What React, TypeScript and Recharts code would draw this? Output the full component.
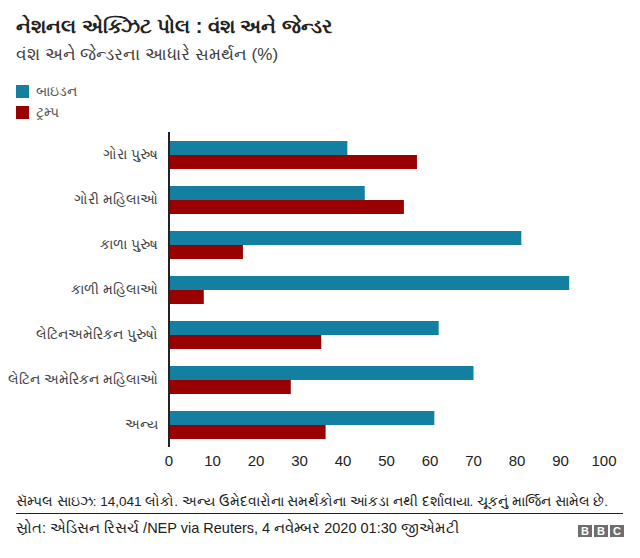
import React from 'react'
import { BarChart, Bar, XAxis, YAxis, Legend } from 'recharts'

const groups = [
  'ગોરા પુરુષ',
  'ગોરી મહિલાઓ',
  'કાળા પુરુષ',
  'કાળી મહિલાઓ',
  'લેટિનઅમેરિકન પુરુષો',
  'લેટિન અમેરિકન મહિલાઓ',
  'અન્ય',
]
const bidenShare = [41, 45, 81, 92, 62, 70, 61]
const trumpShare = [57, 54, 17, 8, 35, 28, 36]
const xTicks = [0, 10, 20, 30, 40, 50, 60, 70, 80, 90, 100]

const BLUE = '#1380A1'
const RED = '#990000'
const FONT = '"Liberation Sans", Arial, "Noto Sans", sans-serif'

const data = groups.map((name, i) => ({
  name,
  biden: bidenShare[i],
  trump: trumpShare[i],
}))

const legendItems = [
  { label: 'બાઇડન', color: BLUE },
  { label: 'ટ્રમ્પ', color: RED },
]

function LegendBox() {
  return (
    <div style={{ fontFamily: FONT }}>
      {legendItems.map((item) => (
        <div key={item.label} style={{ display: 'flex', alignItems: 'center', height: 21 }}>
          <span style={{ width: 13, height: 13, background: item.color, marginRight: 7 }} />
          <span style={{ fontSize: 14, color: '#555' }}>{item.label}</span>
        </div>
      ))}
    </div>
  )
}

// single-line category label, no wrapping
function GroupTick(props: any) {
  const { x, y, payload } = props
  return (
    <text
      x={x}
      y={y}
      dy="0.355em"
      textAnchor="end"
      fill="#444"
      fontSize={14}
      fontFamily={FONT}
    >
      {payload.value}
    </text>
  )
}

function BbcLogo() {
  return (
    <div style={{ position: 'absolute', left: 578, top: 525, display: 'flex', gap: 2 }}>
      {['B', 'B', 'C'].map((ch, i) => (
        <div
          key={i}
          style={{
            width: 14,
            height: 12,
            background: '#6e6e6e',
            color: '#fff',
            fontFamily: FONT,
            fontWeight: 700,
            fontSize: 11,
            lineHeight: '12px',
            textAlign: 'center',
          }}
        >
          {ch}
        </div>
      ))}
    </div>
  )
}

export default function App() {
  return (
    <div
      style={{
        position: 'absolute',
        left: 0,
        top: 0,
        width: 640,
        height: 558,
        background: '#fff',
        fontFamily: FONT,
        overflow: 'hidden',
      }}
    >
      <BarChart
        width={640}
        height={480}
        data={data}
        layout="vertical"
        margin={{ top: 132, right: 36, bottom: 3, left: 0 }}
        barSize={14}
        barGap={0}
      >
        <XAxis
          type="number"
          domain={[0, 100]}
          ticks={xTicks}
          axisLine={false}
          tickLine={false}
          height={30}
          tick={{ fill: '#222', fontSize: 15, fontFamily: FONT }}
        />
        <YAxis
          type="category"
          dataKey="name"
          width={169}
          tickLine={false}
          tickMargin={5}
          axisLine={{ stroke: '#222', strokeWidth: 2 }}
          tick={<GroupTick />}
        />
        <Legend
          layout="horizontal"
          verticalAlign="middle"
          align="center"
          content={() => <LegendBox />}
          wrapperStyle={{ left: 16, top: 81, width: 120, height: 42 }}
        />
        <Bar dataKey="biden" name="બાઇડન" fill={BLUE} isAnimationActive={false} />
        <Bar dataKey="trump" name="ટ્રમ્પ" fill={RED} isAnimationActive={false} />
      </BarChart>

      <div
        style={{
          position: 'absolute',
          left: 16,
          top: 15,
          fontSize: 20,
          fontWeight: 700,
          color: '#222',
          whiteSpace: 'nowrap',
        }}
      >
        નેશનલ એક્ઝિટ પોલ : વંશ અને જેન્ડર
      </div>
      <div
        style={{
          position: 'absolute',
          left: 16,
          top: 45,
          fontSize: 17,
          color: '#404040',
          whiteSpace: 'nowrap',
        }}
      >
        વંશ અને જેન્ડરના આધારે સમર્થન (%)
      </div>

      <div
        style={{
          position: 'absolute',
          left: 16,
          top: 493,
          fontSize: 13.5,
          lineHeight: '18px',
          color: '#222',
          whiteSpace: 'nowrap',
        }}
      >
        સૅમ્પલ સાઇઝ: 14,041 લોકો. અન્ય ઉમેદવારોના સમર્થકોના આંકડા નથી દર્શાવાયા. ચૂકનું માર્જિન સામેલ છે.
      </div>
      <div
        style={{
          position: 'absolute',
          left: 16,
          top: 513,
          width: 607,
          height: 1,
          background: '#222',
        }}
      />
      <div
        style={{
          position: 'absolute',
          left: 16,
          top: 519,
          fontSize: 14.5,
          lineHeight: '18px',
          color: '#222',
          whiteSpace: 'nowrap',
        }}
      >
        સ્રોત: એડિસન રિસર્ચ /NEP via Reuters, 4 નવેમ્બર 2020 01:30 જીએમટી
      </div>
      <BbcLogo />
    </div>
  )
}
